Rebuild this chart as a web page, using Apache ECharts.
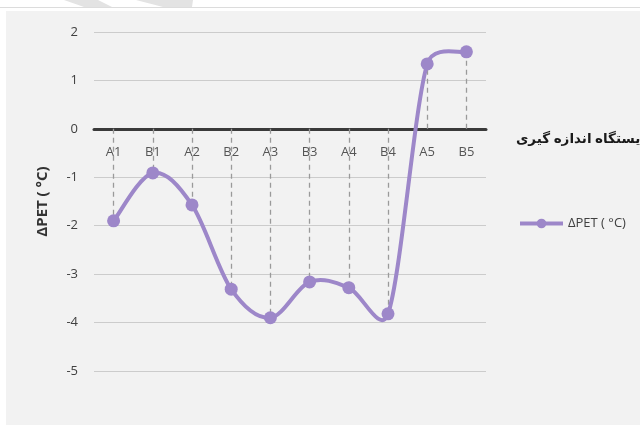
<!DOCTYPE html>
<html>
<head>
<meta charset="utf-8">
<script src="https://cdn.jsdelivr.net/npm/echarts@6/dist/echarts.min.js"></script>
<style>
html,body{margin:0;padding:0;background:#fff;}
#c{width:640px;height:425px;}
</style>
</head>
<body>
<div id="c"></div>
<script>
var categories = ['A1','B1','A2','B2','A3','B3','A4','B4','A5','B5'];
var petValues = [-1.90, -0.91, -1.57, -3.31, -3.90, -3.16, -3.28, -3.82, 1.34, 1.59];
var seriesName = 'ΔPET ( °C)';
var yAxisName = 'ΔPET ( °C)';
var xAxisTitle = 'ایستگاه اندازه گیری';
var yTicks = {min: -5, max: 2, interval: 1};

var lineColor = '#9d87c9';
var chart = echarts.init(document.getElementById('c'), null, {renderer: 'canvas'});
var dropLines = categories.map(function (c, i) {
  return [{coord: [c, 0]}, {coord: [c, petValues[i]]}];
});
var font = "'Open Sans', 'DejaVu Sans', sans-serif";

// Excel-like spline: each item draws the Bezier segment from point i to i+1
function renderSegment(params, api) {
  var i = params.dataIndex;
  var n = petValues.length;
  if (i >= n - 1) return null;
  function P(j) {
    j = Math.max(0, Math.min(n - 1, j));
    return api.coord([j, petValues[j]]);
  }
  var p0 = P(i - 1), p1 = P(i), p2 = P(i + 1), p3 = P(i + 2);
  var seg = Math.hypot(p2[0] - p1[0], p2[1] - p1[1]);
  function tangent(a, b) {
    var tx = (b[0] - a[0]) / 6, ty = (b[1] - a[1]) / 6;
    var len = Math.hypot(tx, ty);
    var lim = seg / 2;
    if (len > lim && len > 0) { tx *= lim / len; ty *= lim / len; }
    return [tx, ty];
  }
  var t1 = tangent(p0, p2), t2 = tangent(p1, p3);
  var c1 = [p1[0] + t1[0], p1[1] + t1[1]];
  var c2 = [p2[0] - t2[0], p2[1] - t2[1]];
  return {
    type: 'bezierCurve',
    shape: {x1: p1[0], y1: p1[1], cpx1: c1[0], cpy1: c1[1], cpx2: c2[0], cpy2: c2[1], x2: p2[0], y2: p2[1]},
    style: {stroke: lineColor, lineWidth: 4, fill: null, lineCap: 'round'}
  };
}

chart.setOption({
  animation: false,
  backgroundColor: '#ffffff',
  textStyle: {fontFamily: font},
  graphic: [
    {type: 'rect', z: -10, silent: true, shape: {x: 0, y: 7, width: 640, height: 1}, style: {fill: '#dcdcdc'}},
    {type: 'polygon', z: -10, silent: true, shape: {points: [[64, 0], [98, 0], [112, 7], [84, 7]]}, style: {fill: '#e3e3e3'}},
    {type: 'polygon', z: -10, silent: true, shape: {points: [[136, 0], [193, 0], [192, 7], [163, 7]]}, style: {fill: '#e3e3e3'}},
    {type: 'rect', z: -10, silent: true, shape: {x: 6, y: 11, width: 634, height: 414}, style: {fill: '#f2f2f2'}},
    {type: 'text', left: 516, top: 132, style: {text: xAxisTitle, font: 'bold 13.5px ' + font, fill: '#1a1a1a'}}
  ],
  grid: {left: 94, right: 154, top: 32, bottom: 54, containLabel: false},
  legend: {
    left: 513, top: 212,
    itemWidth: 43, itemHeight: 12, itemGap: 3,
    textStyle: {fontSize: 13, color: '#404040', fontFamily: font},
    data: [{name: seriesName, itemStyle: {color: lineColor}, lineStyle: {color: lineColor, width: 4, opacity: 1}}]
  },
  xAxis: {
    type: 'category',
    data: categories,
    boundaryGap: true,
    axisLine: {onZero: true, lineStyle: {color: '#3a3a3a', width: 3}},
    axisTick: {show: false},
    axisLabel: {margin: -225, fontSize: 13, color: '#555555', fontFamily: font},
    splitLine: {show: false}
  },
  yAxis: {
    type: 'value',
    min: yTicks.min, max: yTicks.max, interval: yTicks.interval,
    name: yAxisName,
    nameLocation: 'middle',
    nameGap: 44,
    nameRotate: 90,
    nameTextStyle: {fontSize: 15, fontWeight: 'bold', color: '#333333', fontFamily: font},
    axisLine: {show: false},
    axisTick: {show: false},
    axisLabel: {margin: 16, fontSize: 13, color: '#404040', fontFamily: font},
    splitLine: {lineStyle: {color: '#cccccc', width: 1}}
  },
  series: [
    {
      type: 'custom',
      name: 'spline',
      data: categories.map(function (c, i) { return [i, petValues[i]]; }),
      encode: {x: 0, y: 1},
      renderItem: renderSegment,
      silent: true,
      z: 2
    },
    {
      name: seriesName,
      type: 'line',
      data: petValues,
      symbol: 'circle',
      symbolSize: 13,
      itemStyle: {color: lineColor},
      lineStyle: {color: lineColor, width: 4, opacity: 0},
      markLine: {
        silent: true,
        symbol: ['none', 'none'],
        label: {show: false},
        lineStyle: {color: '#9a9a9a', width: 1.3, type: [5, 4]},
        data: dropLines,
        z: 1
      },
      z: 3
    }
  ]
});
</script>
</body>
</html>
